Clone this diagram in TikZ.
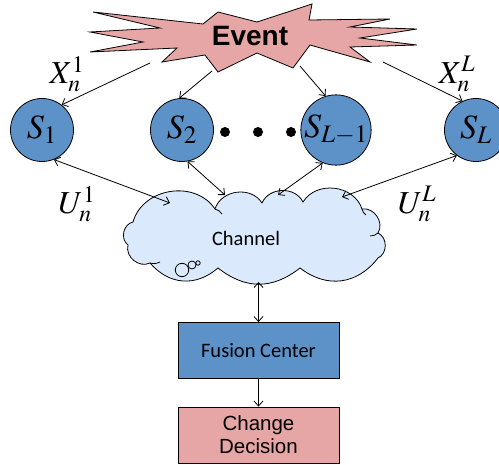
\documentclass[tikz,border=0pt]{standalone}
\usepackage{mathptmx}
\usepackage[no-math]{fontspec}
\setmainfont{Liberation Serif}
\newfontfamily\arialfont{Liberation Sans}
\newfontfamily\califont{Carlito}
\usetikzlibrary{arrows.meta}
\definecolor{sensorblue}{RGB}{93,146,201}
\definecolor{eventpink}{RGB}{229,166,165}
\definecolor{cloudblue}{RGB}{218,234,252}

\begin{document}
\begin{tikzpicture}[x = 1pt, y = -1pt, line width = .8pt,
  >={Straight Barb[length=5pt, width=9pt]},
  sensor/.style = {circle, draw, fill = sensorblue, minimum size = 63pt, inner sep = 0pt, font = \fontsize{34}{40}\selectfont},
  block/.style = {rectangle, draw, minimum width = 161pt, minimum height = 56pt, align = center},
  lbl/.style = {font = \fontsize{32}{38}\selectfont, inner sep = 0pt},
  puff/.style = {bend left = #1, looseness = 1.1}, puff/.default = 65]
\useasboundingbox (0,0) rectangle (499,465);

% the event burst
\draw[fill = eventpink] (93,12) -- (203,24) -- (218,12) -- (257,22) -- (312,4) -- (309,20)
  -- (390,19) -- (350,27) -- (417,29) -- (360,38) -- (417,45) -- (350,47) -- (370,62)
  -- (310,45) -- (293,68) -- (257,53) -- (218,72) -- (205,55) -- (162,62) -- (177,48)
  -- (90,52) -- (143,42) -- (90,32) -- (160,28) -- cycle;
\node[font = \arialfont\bfseries\fontsize{28}{32}\selectfont] (event) at (250,36) {Event};

% sensors
\node[sensor] (s1) at (42,130) {$S_1$};
\node[sensor] (s2) at (182,130) {$S_2$};
\node[sensor] (sl1) at (336,130) {$S_{L-1}$};
\node[sensor] (sl) at (476,130) {$S_L$};
\foreach \x in {225,258,291} \fill (\x,132) circle (5pt);

\coordinate (e1) at (150,63);
\coordinate (e2) at (212,71);
\coordinate (e3) at (300,66);
\coordinate (e4) at (383,62);
\draw[->] (e1) -- (s1.52);
\draw[->] (e2) -- (s2.95);
\draw[->] (e3) -- (sl1.107);
\draw[->] (e4) -- (sl.115);
\node[lbl] (x1) at (67,74) {$X_n^1$};
\node[lbl] (xl) at (457,74) {$X_n^L$};

% channel cloud
\draw[fill = cloudblue] (133,222) to[puff] (215,209) to[puff] (262,203) to[puff] (303,202)
  to[puff] (362,209) to[puff] (378,233) to[puff] (378,258) to[puff = 45] (300,268)
  to[puff = 38] (218,268) to[puff = 45] (150,263) to[puff] (128,245)
  to[puff] cycle;
\draw (215,209) to[bend left = 20] (222,214);
\draw (362,209) to[bend right = 20] (366,215);
\draw (378,233) to[bend left = 20] (370,236);
\draw (150,263) to[bend right = 20] (160,262);
\node[font = \califont\fontsize{20.5}{24}\selectfont] (channel) at (246,238) {Channel};
\draw (182,270) circle (6.7pt);
\draw (192,265) circle (4pt);
\draw (198,263) circle (2.2pt);

\coordinate (c1) at (170,203);
\coordinate (c2) at (225,195);
\coordinate (c3) at (278,195);
\coordinate (c4) at (342,197);
\coordinate (c5) at (258.5,282);
\draw[<->] (s1.-68) -- (c1);
\draw[<->] (s2.-80) -- (c2);
\draw[<->] (sl1.-112) -- (c3);
\draw[<->] (sl.-127) -- (c4);
\node[lbl] (u1) at (77,204) {$U_n^1$};
\node[lbl] (ul) at (417,204) {$U_n^L$};

% fusion and decision
\node[block, fill = sensorblue, font = \califont\fontsize{20.5}{24}\selectfont] (fusion) at (258.5,350.5) {Fusion Center};
\node[block, fill = eventpink, font = \arialfont\fontsize{20.5}{23}\selectfont] (decision) at (258.5,435) {Change\\Decision};
\draw[<->] (fusion.north) -- (c5);
\draw[->] (fusion) -- (decision);
\end{tikzpicture}
\end{document}
